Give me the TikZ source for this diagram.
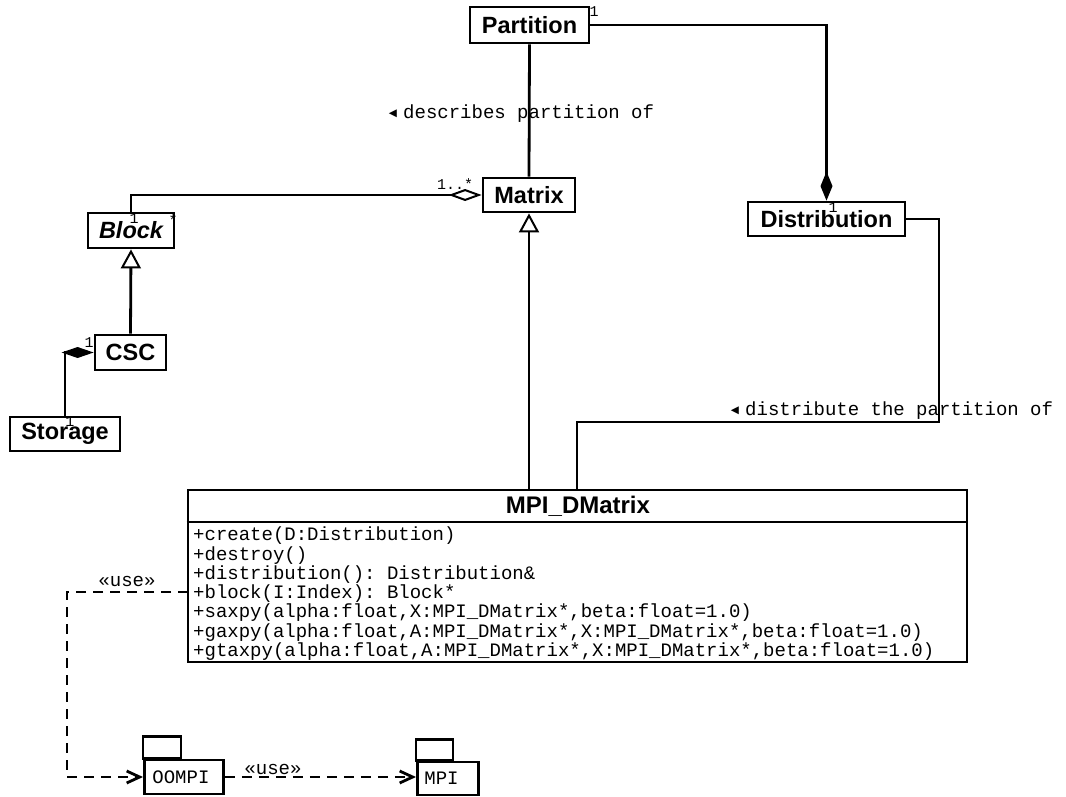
\documentclass[tikz,border=0pt]{standalone}
\usepackage{fontspec}
\setmainfont{Liberation Sans}
\setmonofont{Liberation Mono}
\newfontfamily\glyphfont{DejaVu Sans}
\usetikzlibrary{arrows.meta}

\tikzset{
  cls/.style={draw, line width=2.8pt, fill=white, inner sep=0pt,
    font=\fontsize{23.5}{26}\selectfont\bfseries},
  conn/.style={line width=2.8pt},
  dep/.style={line width=2.8pt, dash pattern=on 10pt off 7pt,
    -{Straight Barb[length=13pt,width=12pt,line width=2.8pt]}},
  mono/.style={font=\fontsize{19}{19.25}\selectfont\ttfamily, inner sep=0pt},
  mult/.style={font=\fontsize{15}{15}\selectfont\ttfamily, inner sep=0pt},
  pkg/.style={draw, line width=2.8pt, anchor=west, inner ysep=0pt,
    font=\fontsize{19}{19.25}\selectfont\ttfamily},
  gen/.style={{Triangle[open,length=19pt,width=20pt,line width=2pt]}-},
  pointer/.style={font=\glyphfont\fontsize{10.5}{10.5}\selectfont, inner sep=0pt},
}

\begin{document}
\begin{tikzpicture}[x=1pt,y=-1pt]
\useasboundingbox (0,0) rectangle (1066,796);

% classes
\node[cls, minimum width=119pt, minimum height=36pt] (partition) at (529.5,25) {Partition};
\node[cls, minimum width=92pt, minimum height=34pt] (matrix) at (529,195) {Matrix};
\node[cls, minimum width=157pt, minimum height=34pt] (distribution) at (826.5,219) {Distribution};
\node[cls, minimum width=86pt, minimum height=35pt, font=\fontsize{23.5}{26}\selectfont\bfseries\itshape] (block) at (131,230.5) {Block};
\node[cls, minimum width=71pt, minimum height=35pt] (csc) at (130.5,352.5) {CSC};
\node[cls, minimum width=110pt, minimum height=34pt] (storage) at (65,434) {Storage};

% MPI_DMatrix with its operations compartment
\node[draw, line width=2.8pt, minimum width=779pt, minimum height=172pt, inner sep=0pt] (mpi) at (577.5,576) {};
\draw[line width=2.8pt] (mpi.west |- 0,522) -- (mpi.east |- 0,522);
\node[cls, draw=none, fill=none, font=\fontsize{24}{26}\selectfont\bfseries] (mpititle) at (578,506) {MPI\_DMatrix};
\node[mono, anchor=north west, align=left] (ops) at (193,527) {%
+create(D:Distribution)\\
+destroy()\\
+distribution(): Distribution\&\\
+block(I:Index): Block*\\
+saxpy(alpha:float,X:MPI\_DMatrix*,beta:float=1.0)\\
+gaxpy(alpha:float,A:MPI\_DMatrix*,X:MPI\_DMatrix*,beta:float=1.0)\\
+gtaxpy(alpha:float,A:MPI\_DMatrix*,X:MPI\_DMatrix*,beta:float=1.0)};

% packages
\node[pkg, minimum width=79pt, minimum height=34pt, text width=63pt, inner xsep=8pt] (oompi) at (143,777) {OOMPI};
\draw[line width=2.8pt] (oompi.north west) rectangle ++(38,-22);
\node[pkg, minimum width=61pt, minimum height=33pt, text width=47pt, inner xsep=7pt] (mpipkg) at (416,778.5) {MPI};
\draw[line width=2.8pt] (mpipkg.north west) rectangle ++(37,-21);

% associations
\draw[conn] (partition.south) -- (matrix.north);
\node[pointer] (tri1) at (393,114) {◀};
\node[mono, anchor=west] (lbldesc) at (403,114) {describes partition of};

\draw[conn, -{Diamond[length=29pt,width=12pt]}] (partition.east) -| (distribution.north);
\node[mult] (m1) at (594,12) {1};
\node[mult] (m2) at (833,208) {1};

\draw[conn, -{Diamond[open,length=33pt,width=12pt,line width=2pt]}] (block.north) |- (matrix.west);
\node[mult, anchor=base west] (m3) at (437,189) {1..*};
\node[mult] (m4) at (134,219) {1};
\node[mult] (m5) at (173,220) {*};

\draw[conn, -{Diamond[length=32pt,width=11pt]}] (storage.north) |- (csc.west);
\node[mult] (m6) at (89,343) {1};
\node[mult] (m7) at (70,422) {1};

% generalizations
\coordinate (mg) at (529,490);
\draw[conn, gen] (matrix.south) -- (mg);
\draw[conn, gen] (block.south) -- (csc.north);

% distribution link
\coordinate (d1) at (939,422);
\coordinate (d2) at (577,490);
\draw[conn] (distribution.east) -| (d1) -| (d2);
\node[pointer] (tri2) at (735,411) {◀};
\node[mono, anchor=west] (lbldist) at (745,411) {distribute the partition of};

% dependencies
\coordinate (u0) at (188,592);
\coordinate (u1) at (67,592);
\coordinate (u2) at (67,777);
\draw[dep] (u0) -- (u1) -- (u2) -- (oompi.west);
\node[mono] (use1) at (127,581) {«use»};
\draw[dep] (oompi.east) -- (oompi.east -| mpipkg.west);
\node[mono] (use2) at (273,769) {«use»};
\end{tikzpicture}
\end{document}
